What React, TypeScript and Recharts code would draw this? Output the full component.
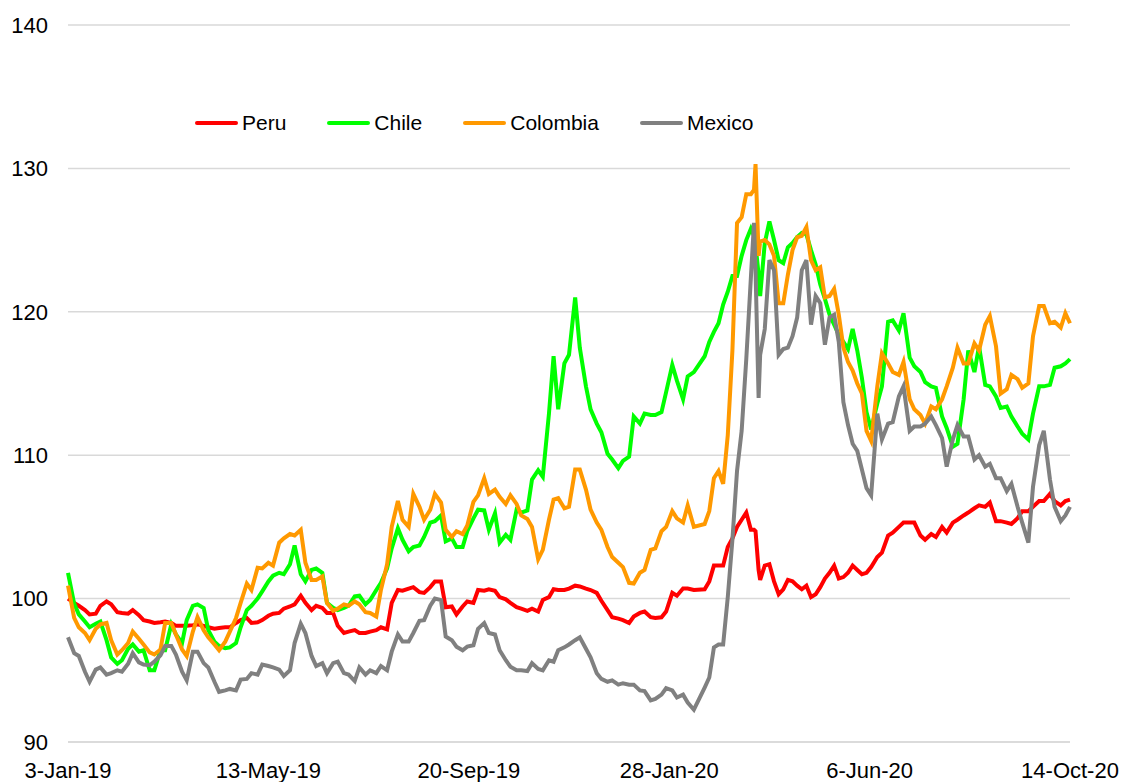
import { LineChart, Line, XAxis, YAxis, CartesianGrid, Legend } from 'recharts';

// days since 3-Jan-19
const days = [
  0, 4, 7, 11, 14, 18, 21, 25, 28, 32,
  35, 39, 42, 46, 49, 53, 56, 60, 63, 67,
  70, 74, 77, 81, 84, 88, 91, 95, 98, 102,
  105, 109, 112, 116, 119, 123, 126, 130, 133, 137,
  140, 144, 147, 151, 154, 158, 161, 165, 168, 172,
  175, 179, 182, 186, 189, 193, 196, 200, 203, 207,
  210, 214, 217, 221, 224, 228, 231, 235, 238, 242,
  245, 249, 252, 256, 259, 263, 266, 270, 273, 277,
  280, 284, 287, 291, 294, 298, 301, 305, 308, 312,
  315, 318, 322, 325, 329, 332, 336, 339, 343, 346,
  350, 353, 357, 360, 364, 367, 371, 374, 378, 381,
  385, 388, 392, 395, 399, 402, 406,
  413, 416, 419, 422, 425, 428, 431, 434, 437, 440, 443, 445, 446, 448, 449, 452, 455, 458, 461, 464,
  467, 470, 473, 476, 479, 482, 485, 488, 491, 494, 497, 500, 503, 506, 509, 512, 515, 518,
  521, 525, 528, 532, 535, 539, 542, 546, 549, 553, 556, 560, 563, 567, 570, 574, 577, 581, 584, 588,
  591, 595, 598, 602, 605, 609, 612, 616, 619, 623, 626, 630, 633, 637, 640, 644, 647, 650,
];

const peru = [
  100.0, 99.7, 99.5, 99.2, 98.9, 98.95, 99.5, 99.8, 99.6, 99.05,
  99.0, 98.95, 99.2, 98.85, 98.5, 98.4, 98.3, 98.35, 98.4, 98.3,
  98.1, 98.1, 98.1, 98.15, 98.2, 98.1, 98.0, 97.9, 97.95, 98.0,
  98.0, 98.3, 98.5, 98.65, 98.3, 98.35, 98.5, 98.8, 98.95, 99.0,
  99.3, 99.45, 99.6, 100.2, 99.7, 99.2, 99.5, 99.35, 99.0, 99.0,
  98.1, 97.6, 97.7, 97.8, 97.6, 97.6, 97.7, 97.8, 98.0, 97.85,
  99.7, 100.6, 100.55, 100.7, 100.8, 100.45, 100.4, 100.8, 101.2, 101.2,
  99.4, 99.45, 98.9, 99.45, 99.8, 99.7, 100.6, 100.55, 100.65, 100.55,
  100.1, 99.95, 99.7, 99.4, 99.3, 99.15, 99.3, 99.1, 99.9, 100.1,
  100.65, 100.6, 100.6, 100.7, 100.9, 100.85, 100.7, 100.6, 100.4, 99.85,
  99.2, 98.7, 98.6, 98.5, 98.3, 98.75, 99.0, 99.1, 98.7, 98.65,
  98.7, 99.1, 100.4, 100.2, 100.7, 100.7, 100.6,
  100.65, 101.2, 102.3, 102.3, 102.3, 103.6, 104.2, 105.0, 105.5, 106.0, 104.8, 104.8, 104.7, 102.0, 101.3, 102.3, 102.4, 101.2, 100.3, 100.65,
  101.3, 101.2, 100.9, 100.65, 100.9, 100.1, 100.3, 100.8, 101.4, 101.8, 102.3, 101.4, 101.5, 101.8, 102.3, 102.0, 101.7, 101.8,
  102.2, 102.9, 103.2, 104.4, 104.6, 105.0, 105.3, 105.3, 105.3, 104.4, 104.1, 104.5, 104.3, 105.0, 104.6, 105.3, 105.5, 105.8, 106.0, 106.3,
  106.5, 106.4, 106.7, 105.4, 105.4, 105.3, 105.2, 105.6, 106.1, 106.1, 106.4, 106.8, 106.8, 107.3, 106.8, 106.5, 106.8, 106.9,
];

const chile = [
  101.8, 99.65, 98.9, 98.4, 98.0, 98.25, 98.4, 97.1, 95.9, 95.45,
  95.7, 96.5, 96.8, 96.3, 96.4, 95.0, 95.0, 96.4, 96.4, 98.2,
  97.5, 96.9, 98.5, 99.5, 99.6, 99.35, 97.8, 97.0, 96.7, 96.55,
  96.6, 96.9, 98.0, 99.2, 99.5, 100.0, 100.5, 101.2, 101.6, 101.8,
  101.7, 102.4, 103.7, 101.7, 101.2, 102.0, 102.1, 101.8, 99.7, 99.35,
  99.2, 99.35, 99.5, 100.15, 100.2, 99.6, 99.9, 100.6, 101.1, 102.1,
  103.5, 104.9, 104.1, 103.3, 103.6, 103.7, 104.3, 105.3, 105.4, 105.8,
  104.0, 104.2, 103.6, 103.6, 104.7, 105.6, 106.2, 106.15, 104.8, 105.95,
  103.9, 104.45, 104.1, 106.2, 106.0, 106.15, 108.3, 108.95, 108.5, 112.9,
  116.9, 113.2, 116.4, 117.0, 121.0, 117.5, 114.8, 113.2, 112.2, 111.6,
  110.1, 109.7, 109.1, 109.6, 109.9, 112.7, 112.2, 112.9, 112.8, 112.8,
  113.0, 114.4, 116.3, 115.2, 113.9, 115.5, 115.8,
  116.9, 117.9, 118.6, 119.2, 120.5, 121.4, 122.5, 122.5, 123.9, 125.0, 125.8, 125.3, 124.7, 122.6, 121.1, 124.8, 126.3, 125.0, 123.6, 123.4,
  124.5, 124.8, 125.2, 125.5, 125.4, 124.3, 123.3, 121.9, 120.9, 119.8, 119.1, 118.4, 117.9, 117.4, 118.8, 117.3, 115.4, 113.0,
  111.8, 113.6, 114.8, 119.3, 119.4, 118.7, 119.9, 116.8, 116.2, 115.8, 115.1, 114.8, 114.7, 112.7, 111.9, 110.6, 110.8, 113.9, 117.3, 115.8,
  117.6, 114.9, 114.8, 114.1, 113.3, 113.4, 112.7, 112.0, 111.5, 111.1, 112.9, 114.8, 114.8, 114.9, 116.1, 116.2, 116.4, 116.7,
];

const colombia = [
  100.9, 98.65, 98.0, 97.6, 97.1, 97.9, 98.2, 98.3, 97.1, 96.1,
  96.4, 96.9, 97.7, 97.2, 96.8, 96.25, 96.1, 96.45, 98.3, 98.3,
  97.5, 96.45, 96.0, 97.7, 98.7, 97.8, 97.3, 96.8, 96.4, 97.0,
  97.7, 98.65, 99.7, 101.05, 100.6, 102.15, 102.1, 102.5, 102.3, 103.9,
  104.2, 104.5, 104.4, 104.8, 102.5, 101.3, 101.3, 101.55, 99.7, 99.15,
  99.3, 99.6, 99.5, 99.8, 99.6, 99.05, 99.0, 98.75, 100.6, 102.4,
  105.0, 106.8, 105.5, 105.0, 107.3, 106.4, 105.5, 106.2, 107.3, 106.7,
  104.8, 104.3, 104.7, 104.5, 105.1, 106.75, 107.2, 108.4, 107.3, 107.6,
  107.1, 106.6, 107.2, 106.6, 105.8, 105.55, 105.0, 102.75, 103.4, 105.5,
  106.9, 107.0, 106.3, 106.4, 109.0, 109.0, 107.6, 106.2, 105.3, 104.8,
  103.6, 102.9, 102.5, 102.2, 101.1, 101.05, 101.8, 102.0, 103.4, 103.5,
  104.7, 105.0, 106.1, 105.6, 105.3, 106.5, 105.0,
  105.2, 106.1, 108.4, 108.9, 108.0, 111.4, 117.3, 126.2, 126.6, 128.2, 128.2, 128.5, 130.3, 123.9, 124.9, 125.0, 124.7, 123.9, 120.6, 120.6,
  122.6, 124.3, 125.2, 125.3, 125.9, 123.6, 122.9, 123.1, 121.0, 121.1, 121.6, 119.8, 117.5, 116.5, 115.9, 115.0, 114.3, 111.7,
  111.0, 114.8, 117.1, 116.4, 115.8, 115.6, 116.5, 113.9, 113.2, 112.8, 112.2, 113.4, 113.2, 113.9, 114.8, 116.1, 117.5, 116.4, 116.4, 117.8,
  117.3, 119.1, 119.7, 117.6, 114.3, 114.6, 115.6, 115.3, 114.7, 115.0, 118.3, 120.4, 120.4, 119.2, 119.3, 118.9, 119.9, 119.2,
];

const mexico = [
  97.3, 96.2, 96.0, 94.9, 94.2, 95.05, 95.2, 94.7, 94.8, 95.0,
  94.9, 95.45, 96.2, 95.55, 95.4, 95.35, 95.6, 96.05, 96.7, 96.7,
  96.1, 94.9, 94.3, 96.3, 96.3, 95.5, 95.2, 94.2, 93.5, 93.6,
  93.7, 93.6, 94.35, 94.4, 94.8, 94.7, 95.4, 95.3, 95.2, 95.05,
  94.6, 95.0, 96.9, 98.25, 97.6, 96.0, 95.3, 95.5, 94.8, 95.5,
  95.6, 94.8, 94.7, 94.25, 95.2, 94.7, 95.0, 94.8, 95.3, 95.0,
  96.3, 97.5, 97.0, 97.0, 97.6, 98.45, 98.5, 99.5, 100.0, 99.9,
  97.35, 97.1, 96.65, 96.4, 96.65, 96.75, 97.9, 98.3, 97.6, 97.5,
  96.4, 95.7, 95.25, 95.0, 95.0, 94.95, 95.5, 95.1, 95.0, 95.7,
  95.6, 96.4, 96.6, 96.8, 97.1, 97.3, 96.5, 95.9, 94.8, 94.4,
  94.2, 94.3, 94.0, 94.1, 94.0, 94.0, 93.6, 93.55, 92.9, 93.0,
  93.3, 93.75, 93.6, 93.1, 93.3, 92.75, 92.25,
  93.8, 94.5, 96.6, 96.8, 96.8, 100.1, 104.1, 108.9, 111.7, 116.7, 122.4, 126.2, 122.9, 114.0, 117.0, 118.8, 123.6, 122.9, 117.0, 117.4,
  117.5, 118.3, 119.6, 122.9, 123.6, 119.1, 121.1, 120.6, 117.7, 119.6, 119.8, 117.9, 113.7, 112.1, 110.8, 110.3, 109.0, 107.7,
  107.2, 112.9, 111.1, 112.2, 112.3, 114.1, 114.8, 111.7, 112.0, 112.0, 112.2, 112.7, 112.1, 111.2, 109.2, 111.1, 112.1, 111.3, 111.3, 109.7,
  110.0, 109.2, 109.4, 108.4, 108.4, 107.5, 108.0, 106.4, 105.3, 103.9, 107.8, 110.7, 111.7, 108.3, 106.4, 105.4, 105.8, 106.4,
];

const xTicks = [0, 130, 260, 390, 520, 650];
const xLabels = ['3-Jan-19', '13-May-19', '20-Sep-19', '28-Jan-20', '6-Jun-20', '14-Oct-20'];
const yTicks = [90, 100, 110, 120, 130, 140];

const series = [
  { key: 'Peru', color: '#ff0000' },
  { key: 'Chile', color: '#00ff00' },
  { key: 'Colombia', color: '#ff9900' },
  { key: 'Mexico', color: '#808080' },
];

const data = days.map((day, i) => ({
  day,
  Peru: peru[i],
  Chile: chile[i],
  Colombia: colombia[i],
  Mexico: mexico[i],
}));

const FONT = '"Liberation Sans", Arial, sans-serif';

const LegendRow = () => (
  <div style={{ display: 'flex', alignItems: 'center', fontFamily: FONT, fontSize: 21, color: '#000' }}>
    {series.map(s => (
      <span key={s.key} style={{ display: 'flex', alignItems: 'center', marginRight: 41 }}>
        <span style={{ width: 43, height: 4, background: s.color, borderRadius: 2, marginRight: 4, display: 'inline-block' }} />
        {s.key}
      </span>
    ))}
  </div>
);

export default function App() {
  return (
    <div style={{ position: 'absolute', left: 0, top: 0, background: '#fff' }}>
      <LineChart width={1124} height={782} data={data} margin={{ top: 25, right: 54, bottom: 0, left: 0 }}>
        <CartesianGrid horizontal vertical={false} stroke="#d9d9d9" strokeWidth={1.5} />
        <XAxis
          dataKey="day"
          type="number"
          domain={[0, 650]}
          ticks={xTicks}
          interval={0}
          tickFormatter={(v) => xLabels[xTicks.indexOf(v)]}
          height={40}
          tickLine={false}
          tickSize={0}
          tickMargin={20}
          axisLine={{ stroke: '#d9d9d9', strokeWidth: 1.5 }}
          tick={{ fontSize: 22, fill: '#000', fontFamily: FONT }}
        />
        <YAxis
          domain={[90, 140]}
          ticks={yTicks}
          interval={0}
          width={68}
          tickLine={false}
          tickSize={0}
          tickMargin={20}
          axisLine={false}
          tick={{ fontSize: 22, fill: '#000', fontFamily: FONT }}
        />
        <Legend
          layout="horizontal"
          verticalAlign="middle"
          content={<LegendRow />}
          wrapperStyle={{ top: 111, left: 195, width: 'auto' }}
        />
        {series.map(s => (
          <Line
            key={s.key}
            type="linear"
            dataKey={s.key}
            stroke={s.color}
            strokeWidth={4}
            dot={false}
            activeDot={false}
            isAnimationActive={false}
          />
        ))}
      </LineChart>
    </div>
  );
}
